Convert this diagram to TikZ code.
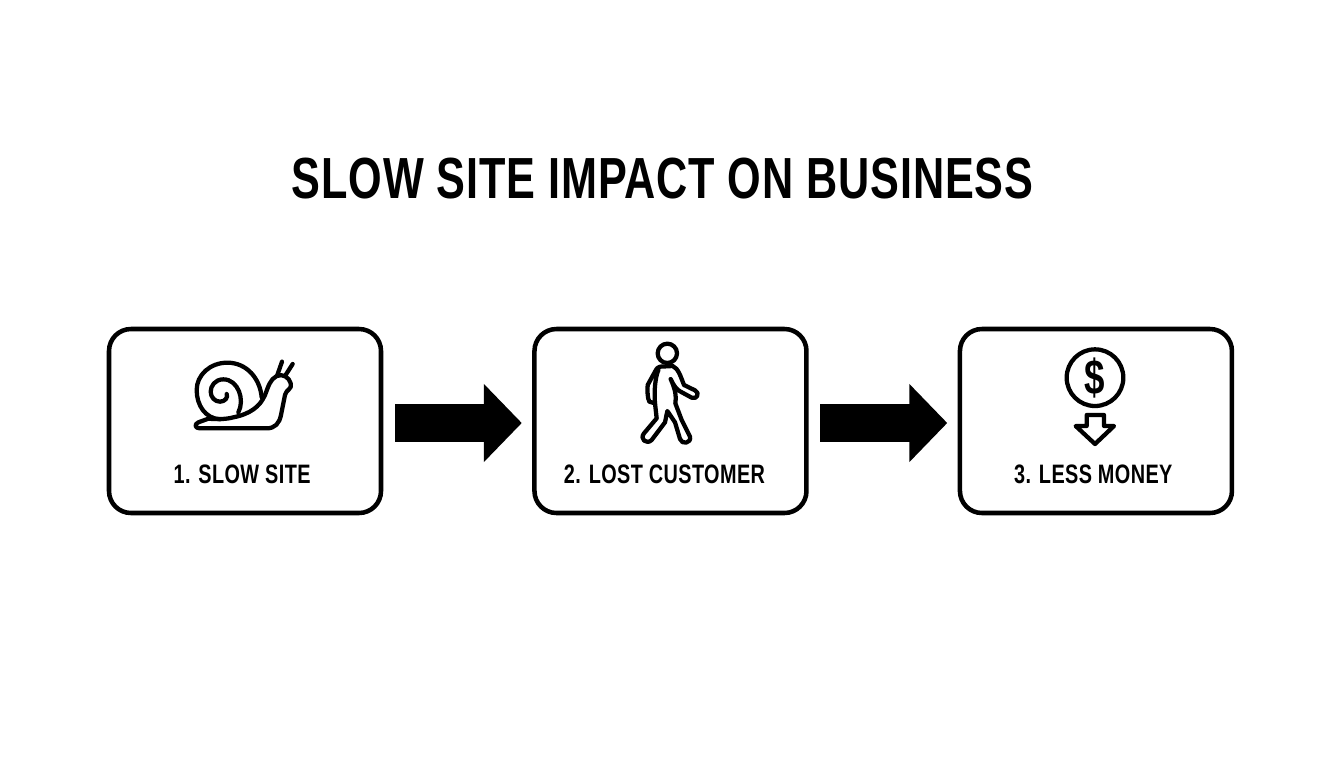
\documentclass[tikz,border=0pt]{standalone}
\usepackage{fontspec}
\setmainfont[FakeStretch=0.745, LetterSpace=1.5]{Liberation Sans}
\usetikzlibrary{arrows.meta, positioning}
\tikzstyle{card} = [rectangle, rounded corners=16.5pt, minimum width=204pt, minimum height=138pt, outer sep=0pt, line width=3.4pt, draw=black]
\tikzstyle{caption} = [font=\bfseries\fontsize{20}{24}\selectfont, text=black, node distance=40pt]
\tikzstyle{heading} = [font=\bfseries\fontsize{43.5}{50}\selectfont, text=black]
\tikzstyle{arrow} = [line width=28.5pt, -{Triangle[length=28.5pt,width=57pt]}, shorten <=10.5pt, shorten >=9.5pt]
\tikzstyle{icon} = [line width=3.2pt, line join=round, line cap=round]
\begin{document}
\begin{tikzpicture}[x=0.75pt, y=-0.75pt, node distance=319.1pt]
        \useasboundingbox (0,0) rectangle (1344,768);
        \node (title) [heading] at (662.5,179) {SLOW SITE IMPACT ON BUSINESS};

        \node (slow) [card] at (245,421) {};
        \node (lost) [card, right of=slow] {};
        \node (money) [card, right of=lost] {};

        \node (slowtext) [caption, below of=slow, xshift=-2.2pt] {1. SLOW SITE};
        \node (losttext) [caption, below of=lost, xshift=-4.5pt] {2. LOST CUSTOMER};
        \node (moneytext) [caption, below of=money, xshift=-2pt] {3. LESS MONEY};

        \draw [arrow] ([yshift=-1.5pt]slow.east) -- ([yshift=-1.5pt]lost.west);
        \draw [arrow] ([yshift=-1.5pt]lost.east) -- ([yshift=-1.5pt]money.west);

        % snail
        \begin{scope}[icon, shift={(170,340)}, scale=1/3]
            \draw (150,238) .. controls (105,235) and (80,195) .. (80,150) .. controls (80,105) and (120,68) .. (172,68) .. controls (230,68) and (270,115) .. (275,172);
            \draw (205,217) .. controls (225,180) and (205,118) .. (160,118) .. controls (135,118) and (122,138) .. (122,155) .. controls (122,172) and (135,185) .. (150,185) .. controls (165,185) and (175,172) .. (170,162);
            \draw (115,236) -- (85,247) .. controls (72,253) and (75,265) .. (90,265) -- (290,265) .. controls (315,265) and (328,250) .. (333,225) -- (345,165) .. controls (348,148) and (368,148) .. (362,130) .. controls (358,112) and (338,100) .. (320,108) .. controls (300,118) and (295,140) .. (285,165) .. controls (270,200) and (240,222) .. (190,232) .. controls (170,238) and (140,238) .. (115,236);
            \draw (322,105) -- (336,65);
            \draw (345,108) -- (368,72);
        \end{scope}

        % walking person
        \begin{scope}[icon, shift={(610,335)}, scale=1/3]
            \draw (172,55) circle (29);
            \draw (150,95) -- (188,93) .. controls (205,100) and (212,125) .. (222,150) -- (255,166) .. controls (270,172) and (262,195) .. (245,188) -- (212,170) .. controls (200,165) and (190,150) .. (182,132) .. controls (192,155) and (200,175) .. (196,205) -- (215,255) -- (240,305) .. controls (245,325) and (215,330) .. (210,312) -- (195,262) -- (172,228) -- (165,262) -- (125,315) .. controls (110,330) and (88,312) .. (102,295) -- (140,250) -- (135,205) -- (118,200) .. controls (112,190) and (112,165) .. (113,150) -- (135,110) .. controls (140,100) and (145,95) .. (150,95);
            \draw (145,105) .. controls (135,130) and (132,170) .. (135,205);
        \end{scope}

        % dollar coin and arrow
        \begin{scope}[icon, shift={(1040,340)}, scale=1/3]
            \draw (165,113) circle (85);
            \node (dollar) [font=\bfseries\fontsize{37}{40}\selectfont] at (165,113) {\$};
            \draw (140,225) -- (192,225) -- (192,258) -- (222,258) -- (165,312) -- (107,258) -- (140,258) -- cycle;
        \end{scope}
\end{tikzpicture}
\end{document}
